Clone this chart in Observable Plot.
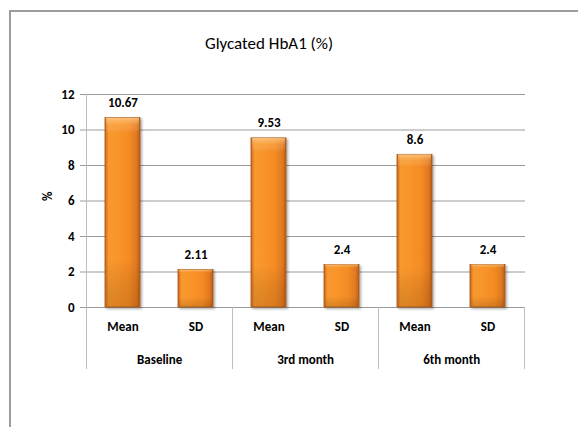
<!DOCTYPE html>
<html>
<head>
<meta charset="utf-8">
<script src="https://cdn.jsdelivr.net/npm/d3@7"></script>
<script src="https://cdn.jsdelivr.net/npm/@observablehq/plot@0.6"></script>
<style>
  html, body { margin: 0; padding: 0; background: #fff; overflow: hidden; }
  #wrap { position: relative; width: 578px; height: 427px; overflow: hidden; font-family: Carlito, Lato, "Liberation Sans", Arial, sans-serif; }
  #frame { position: absolute; left: 9px; top: 10px; width: 700px; height: 600px; border-left: 2px solid #9c9c9c; border-top: 2px solid #9c9c9c; }
  #title { position: absolute; left: 0; top: 33px; width: 538px; text-align: center; font-size: 17px; color: #000; }
  #chart { position: absolute; left: 0; top: 75px; }
</style>
</head>
<body>
<div id="wrap">
  <div id="frame"></div>
  <div id="title">Glycated HbA1 (%)</div>
  <div id="chart"></div>
</div>
<script>
const groups = ["Baseline", "3rd month", "6th month"];
const stats = ["Mean", "SD"];
const meanValues = [10.67, 9.53, 8.6];
const sdValues = [2.11, 2.4, 2.4];
const yTicks = [0, 2, 4, 6, 8, 10, 12];
const yLabel = "%";

const rows = [];
groups.forEach((g, i) => {
  rows.push({group: g, stat: stats[0], key: g + "|" + stats[0], value: meanValues[i]});
  rows.push({group: g, stat: stats[1], key: g + "|" + stats[1], value: sdValues[i]});
});
const keys = rows.map(d => d.key);
const groupRows = groups.map(g => ({group: g, key: g + "|" + stats[0]}));

const W = 578, ML = 85, MR = 53;
const step = (W - ML - MR) / keys.length;
const FONT = 'Carlito, Lato, "Liberation Sans", Arial, sans-serif';

const chart = Plot.plot({
  width: W,
  height: 300,
  marginLeft: ML,
  marginRight: MR,
  marginTop: 19,
  marginBottom: 68,
  style: {fontFamily: FONT, fontSize: "13px", color: "#000", background: "transparent", overflow: "visible"},
  x: {domain: keys, paddingInner: 0.523, paddingOuter: 0.2615, align: 0.5, axis: null},
  y: {domain: [0, 12], axis: null},
  marks: [
    Plot.gridY(yTicks, {stroke: "#9a9a9a", strokeOpacity: 1}),
    Plot.axisY({ticks: yTicks, tickSize: 5, tickPadding: 6, stroke: "#9a9a9a", fill: "#000", fontWeight: "bold", fontSize: 13, label: null}),
    Plot.text([yLabel], {text: d => d, frameAnchor: "left", dx: -38, rotate: -90, fontWeight: "bold", fontSize: 13, fill: "#000"}),
    Plot.barY(rows, {x: "key", y: "value", fill: "url(#barGrad)", stroke: "#a4561b", strokeWidth: 0.8}),
    Plot.barY(rows, {x: "key", y: "value", fill: "url(#barShade)", insetLeft: 1, insetRight: 1}),
    Plot.text(rows, {x: "key", y: "value", text: d => String(d.value), dy: -11, lineAnchor: "bottom", fontWeight: "bold", fontSize: 13, fill: "#000"}),
    Plot.axisX({tickSize: 0, tickPadding: 14, tickFormat: d => d.split("|")[1], fontWeight: "bold", fontSize: 13, fill: "#000", label: null}),
    Plot.text(groupRows, {x: "key", text: "group", frameAnchor: "bottom", dx: step / 2, dy: 52, lineAnchor: "middle", fontWeight: "bold", fontSize: 13, fill: "#000"})
  ]
});

const svg = d3.select(chart);
const defs = svg.insert("defs", ":first-child");
const g1 = defs.append("linearGradient").attr("id", "barGrad").attr("x1", 0).attr("x2", 1).attr("y1", 0).attr("y2", 0);
[["0%", "#cc661a"], ["10%", "#f7982f"], ["35%", "#f9952a"], ["70%", "#f38b24"], ["90%", "#e07820"], ["100%", "#b65e19"]]
  .forEach(([o, c]) => g1.append("stop").attr("offset", o).attr("stop-color", c));
const g2 = defs.append("linearGradient").attr("id", "barShade").attr("x1", 0).attr("x2", 0).attr("y1", 0).attr("y2", 1);
[["0%", "#ffd9a0", 0.7], ["4%", "#ffc680", 0.25], ["8%", "#ffffff", 0], ["75%", "#000000", 0], ["100%", "#5a2a00", 0.18]]
  .forEach(([o, c, a]) => g2.append("stop").attr("offset", o).attr("stop-color", c).attr("stop-opacity", a));
const f = defs.append("filter").attr("id", "shadow").attr("x", "-20%").attr("y", "-10%").attr("width", "150%").attr("height", "130%");
f.append("feDropShadow").attr("dx", 1.5).attr("dy", 1.5).attr("stdDeviation", 1.2).attr("flood-color", "#000").attr("flood-opacity", 0.35);
svg.selectAll("g[aria-label='bar']").filter((d, i) => i === 0).attr("filter", "url(#shadow)");

// category separators drawn through the chart's own scales
const xs = chart.scale("x");
const ys = chart.scale("y");
const st = xs.apply(keys[1]) - xs.apply(keys[0]);
const gap = st * 0.523 / 2;
const y0 = ys.apply(0), yTop = ys.apply(12), yBot = y0 + 62;
const seps = [];
groups.forEach((g, i) => seps.push({x: xs.apply(g + "|" + stats[0]) - gap, top: i === 0 ? yTop : y0}));
seps.push({x: xs.apply(groups[groups.length - 1] + "|" + stats[1]) + xs.bandwidth + gap, top: y0});
svg.append("g").attr("stroke", "#bdbdbd").attr("stroke-width", 1)
  .selectAll("line").data(seps).join("line")
  .attr("x1", d => Math.round(d.x) + 0.5).attr("x2", d => Math.round(d.x) + 0.5)
  .attr("y1", d => d.top).attr("y2", yBot);

document.getElementById("chart").appendChild(chart);
</script>
</body>
</html>
